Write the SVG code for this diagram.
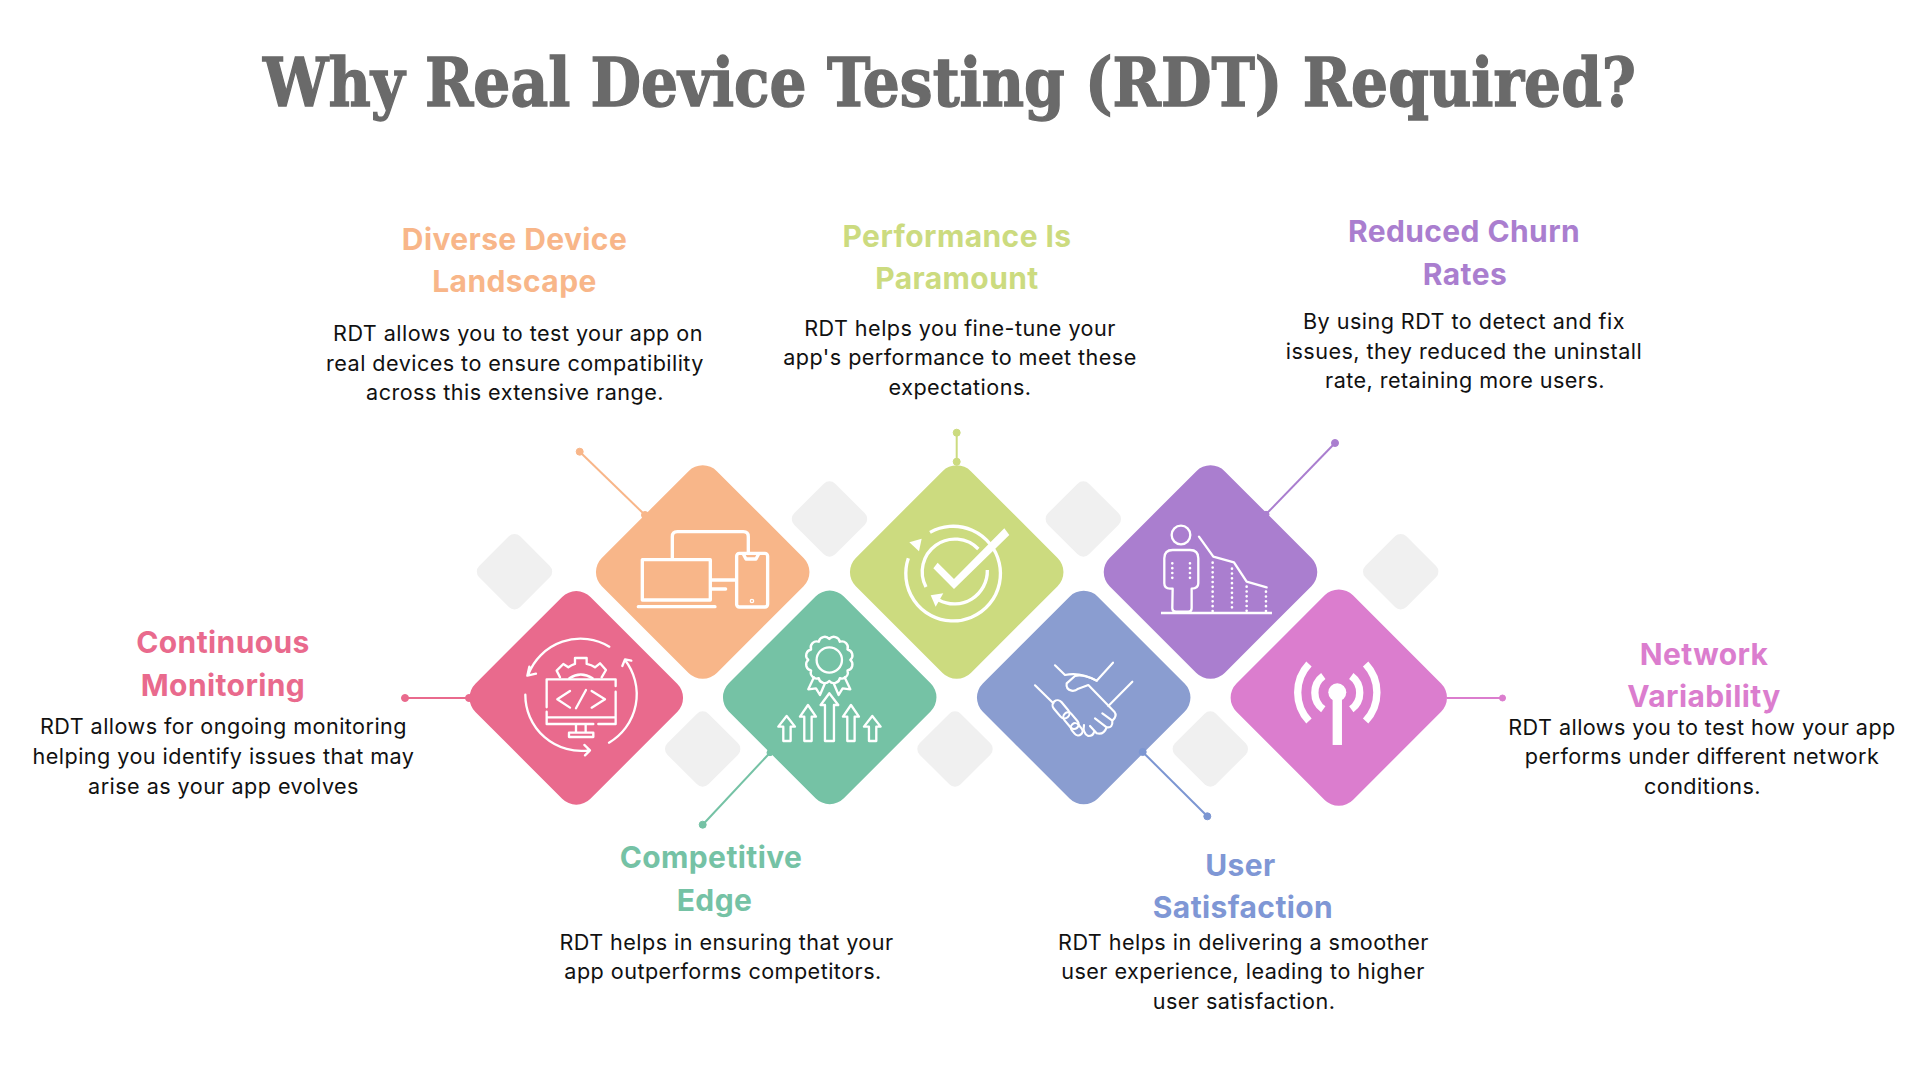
<svg xmlns="http://www.w3.org/2000/svg" width="1920" height="1080" viewBox="0 0 1920 1080">
<style>
text{text-anchor:middle}
.t{font:700 68px "DejaVu Serif Condensed","DejaVu Serif",serif;fill:#6a6a6a;stroke:#6a6a6a;stroke-width:1.3px;text-anchor:start}
.h{font:700 30px Inter,"Liberation Sans",sans-serif;letter-spacing:.4px}
.b{font:400 21.6px Inter,"Liberation Sans",sans-serif;fill:#111;letter-spacing:.45px}
.gd{fill:#f0f0f0}
.ic{fill:none;stroke:#fff;stroke-width:10;stroke-linecap:round;stroke-linejoin:round}
.th{stroke-width:7}
.cn{fill:none;stroke-width:2}
</style>
<rect width="1920" height="1080" fill="#fff"/>
<text class="t" x="263" y="106" textLength="1373" lengthAdjust="spacingAndGlyphs">Why Real Device Testing (RDT) Required?</text>
<g id="decor">
<rect class="gd" x="485.5" y="542.7" width="58" height="58" rx="8" transform="rotate(45 514.5 571.7)"/>
<rect class="gd" x="800.5" y="490" width="58" height="58" rx="8" transform="rotate(45 829.5 519)"/>
<rect class="gd" x="1054.3" y="490" width="58" height="58" rx="8" transform="rotate(45 1083.3 519)"/>
<rect class="gd" x="1371.7" y="542.7" width="58" height="58" rx="8" transform="rotate(45 1400.7 571.7)"/>
<rect class="gd" x="673.7" y="720" width="58" height="58" rx="8" transform="rotate(45 702.7 749)"/>
<rect class="gd" x="926" y="720" width="58" height="58" rx="8" transform="rotate(45 955 749)"/>
<rect class="gd" x="1181.3" y="720" width="58" height="58" rx="8" transform="rotate(45 1210.3 749)"/>
</g>
<g id="node-monitoring">
<rect x="495" y="616.5" width="162.7" height="162.7" rx="20" fill="#E96A8D" transform="rotate(45 576.3 697.8)"/>
<g transform="translate(450 430) scale(.3333)" class="ic th">
<path d="M478 650A168 168 0 0 0 235 733M232 737L258 731M232 737L238 710"/>
<path d="M226 794A168 168 0 0 0 418 961M403 945L420 961L405 976"/>
<path d="M477 938A168 168 0 0 0 525 690M517 708L525 688L544 692"/>
<path d="M290 832V748H497V768M497 785V882H445M290 845V882H430M290 862H497M378 885V908M407 885V908M357 908H430V921H357Z"/>
<path d="M360 783L322 808L360 833M425 783L465 808L425 833M408 780L378 835"/>
<path d="M330 742L320 722L340 702L355 712Q365 705 375 702V684H410V702Q425 705 435 712L450 700L468 720L455 742M358 745Q392 722 428 745"/>
</g>
</g>
<g id="node-devices">
<rect x="621.4" y="490.7" width="162.7" height="162.7" rx="20" fill="#F8B689" transform="rotate(45 702.7 572)"/>
<g transform="translate(450 430) scale(.3333)" class="ic">
<path d="M667 385V320Q667 305 682 305H880Q895 305 895 320V367"/>
<path d="M577 389H781V510H577ZM565 530H795M783 450H857M783 477H827"/>
<rect x="860" y="370" width="93" height="161" rx="8"/>
<path d="M880 372L888 387H918L926 372"/>
<circle cx="906" cy="513" r="2"/>
</g>
</g>
<g id="node-edge">
<rect x="748.4" y="616" width="162.7" height="162.7" rx="20" fill="#75C2A5" transform="rotate(45 829.7 697.3)"/>
<g transform="translate(450 430) scale(.3333)" class="ic th">
<path d="M1201 690A18 18 0 0 1 1192.6 721.5A18 18 0 0 1 1169.5 744.6A18 18 0 0 1 1138 753A18 18 0 0 1 1106.5 744.6A18 18 0 0 1 1083.4 721.5A18 18 0 0 1 1075 690A18 18 0 0 1 1083.4 658.5A18 18 0 0 1 1106.5 635.4A18 18 0 0 1 1138 627A18 18 0 0 1 1169.5 635.4A18 18 0 0 1 1192.6 658.5A18 18 0 0 1 1201 690Z"/>
<circle cx="1138" cy="690" r="38"/>
<path d="M1092 742L1075 778L1098 775L1110 795L1125 760M1184 742L1201 778L1178 775L1166 795L1151 760"/>
<path d="M1125 933V825H1112L1138 790L1165 825H1152V933Z"/>
<path d="M1063 933V860H1050L1074 825L1098 860H1085V933Z"/>
<path d="M1192 933V860H1179L1203 825L1227 860H1214V933Z"/>
<path d="M1000 933V890H985L1010 858L1035 890H1022V933Z"/>
<path d="M1257 933V890H1242L1267 858L1292 890H1279V933Z"/>
</g>
</g>
<g id="node-performance">
<rect x="875.4" y="490.7" width="162.7" height="162.7" rx="20" fill="#CCDB7F" transform="rotate(45 956.7 572)"/>
<g transform="translate(880 490) scale(.3333)" fill="none" stroke="#fff" stroke-width="10">
<path d="M150 127A142 142 0 1 1 85 205"/>
<path d="M295 177A98 98 0 0 0 138 291"/>
<path d="M322 240A99 99 0 0 1 176 330"/>
<path d="M88 157L125 146L117 184Z" fill="#fff" stroke="none"/>
<path d="M152 316L190 310L167 350Z" fill="#fff" stroke="none"/>
<path d="M173 218L222 267L373 115L388 135L222 297L160 235Z" fill="#fff" stroke="none"/>
</g>
</g>
<g id="node-satisfaction">
<rect x="1002.4" y="616.2" width="162.7" height="162.7" rx="20" fill="#8A9DD0" transform="rotate(45 1083.7 697.5)"/>
<g transform="translate(1025 650) scale(.3333)" class="ic" style="stroke-width:6.5">
<path d="M90 46L120 75Q165 65 215 92L264 38M30 106L85 160M322 95L250 168"/>
<path d="M215 92Q175 72 150 78L125 100Q122 118 140 122Q150 124 160 116L190 105L268 185Q278 198 262 212L232 190M262 212Q264 235 245 232L210 205M245 232Q236 256 215 250L195 228"/>
<rect x="77" y="163" width="62" height="30" rx="15" transform="rotate(50 108 178)"/>
<rect x="110" y="198" width="56" height="28" rx="14" transform="rotate(50 138 212)"/>
<rect x="135" y="225" width="40" height="26" rx="13" transform="rotate(50 155 238)"/>
<path d="M177 225Q172 250 190 258Q205 258 207 246"/>
</g>
</g>
<g id="node-churn">
<rect x="1129.2" y="490.7" width="162.7" height="162.7" rx="20" fill="#AA7ECF" transform="rotate(45 1210.5 572)"/>
<g transform="translate(950 430) scale(.3333)" class="ic" style="stroke-width:7">
<circle cx="693" cy="315" r="28"/>
<path d="M668 476H660Q643 476 643 460V385Q643 360 668 360H720Q745 360 745 385V460Q745 476 725 476V535Q725 545 715 545H678Q667 545 667 535Z"/>
<path d="M747 320L790 380L852 397L890 455L950 472"/>
<path d="M633 549H966" stroke-linecap="butt"/>
<path d="M667 400V455M720 400V455M788 398V545M846 416V545M890 470V545M948 485V545" stroke-dasharray="0 14.5" stroke-width="8"/>
</g>
</g>
<g id="node-network">
<rect x="1256.4" y="615.3" width="164.7" height="164.7" rx="20" fill="#DB7DCE" transform="rotate(45 1338.8 697.7)"/>
<g transform="translate(950 430) scale(.3333)" fill="none" stroke="#fff" stroke-width="22">
<path d="M1077 702A125 125 0 0 0 1077 873M1120 738A62 62 0 0 0 1120 838M1247 702A125 125 0 0 1 1247 873M1204 738A62 62 0 0 1 1204 838"/>
<circle cx="1162" cy="787" r="27" fill="#fff" stroke="none"/>
<rect x="1148" y="800" width="28" height="145" fill="#fff" stroke="none"/>
</g>
</g>
<g id="connectors">
<g stroke="#F8B689" fill="#F8B689"><path class="cn" d="M579.7 451.7L645 515"/><circle cx="579.7" cy="451.7" r="3.5"/><circle cx="645" cy="515" r="3.5"/></g>
<g stroke="#E96A8D" fill="#E96A8D"><path class="cn" d="M405 698H469"/><circle cx="405" cy="698" r="3.5"/><circle cx="469" cy="698" r="3.5"/></g>
<g stroke="#75C2A5" fill="#75C2A5"><path class="cn" d="M702.7 824.7L770 752.7"/><circle cx="702.7" cy="824.7" r="3.5"/><circle cx="770" cy="752.7" r="3"/></g>
<g stroke="#CCDB7F" fill="#CCDB7F"><path class="cn" d="M956.7 432.7V461.7"/><circle cx="956.7" cy="432.7" r="3.5"/><circle cx="956.7" cy="461.7" r="3.5"/></g>
<g stroke="#AA7ECF" fill="#AA7ECF"><path class="cn" d="M1335 443L1266 514.3"/><circle cx="1335" cy="443" r="3.5"/><circle cx="1266" cy="514.3" r="3"/></g>
<g stroke="#7C96D2" fill="#7C96D2"><path class="cn" d="M1142.7 752L1207.3 816.3"/><circle cx="1207.3" cy="816.3" r="3.5"/><circle cx="1142.7" cy="752" r="3.5"/></g>
<g stroke="#DB7DCE" fill="#DB7DCE"><path class="cn" d="M1446.7 698H1502.5"/><circle cx="1502.5" cy="698" r="3"/></g>
</g>
<g id="labels">
<g fill="#E96A8D"><text class="h" x="223" y="653">Continuous</text><text class="h" x="223" y="696">Monitoring</text></g>
<text class="b" x="223.5" y="734">RDT allows for ongoing monitoring</text><text class="b" x="223.5" y="764">helping you identify issues that may</text><text class="b" x="223.5" y="794">arise as your app evolves</text>
<g fill="#F8B689"><text class="h" x="514.5" y="249.5">Diverse Device</text><text class="h" x="514.5" y="291.5">Landscape</text></g>
<text class="b" x="518" y="341">RDT allows you to test your app on</text><text class="b" x="515" y="371">real devices to ensure compatibility</text><text class="b" x="515" y="400">across this extensive range.</text>
<g fill="#CCDB7F"><text class="h" x="957" y="247">Performance Is</text><text class="h" x="957" y="288.7">Paramount</text></g>
<text class="b" x="960" y="336">RDT helps you fine-tune your</text><text class="b" x="960" y="365">app's performance to meet these</text><text class="b" x="960" y="395">expectations.</text>
<g fill="#AA7ECF"><text class="h" x="1464" y="241.5">Reduced Churn</text><text class="h" x="1465" y="284.5">Rates</text></g>
<text class="b" x="1464" y="329">By using RDT to detect and fix</text><text class="b" x="1464" y="359">issues, they reduced the uninstall</text><text class="b" x="1465" y="388">rate, retaining more users.</text>
<g fill="#75C2A5"><text class="h" x="711" y="868">Competitive</text><text class="h" x="714.5" y="911">Edge</text></g>
<text class="b" x="726.5" y="950">RDT helps in ensuring that your</text><text class="b" x="723" y="979">app outperforms competitors.</text>
<g fill="#7F97D5"><text class="h" x="1240.5" y="876">User</text><text class="h" x="1243" y="917.5">Satisfaction</text></g>
<text class="b" x="1243.5" y="950">RDT helps in delivering a smoother</text><text class="b" x="1243" y="979">user experience, leading to higher</text><text class="b" x="1244" y="1009">user satisfaction.</text>
<g fill="#DB7DCE"><text class="h" x="1704" y="665">Network</text><text class="h" x="1704" y="707">Variability</text></g>
<text class="b" x="1702" y="735">RDT allows you to test how your app</text><text class="b" x="1702" y="764">performs under different network</text><text class="b" x="1702.5" y="794">conditions.</text>
</g>
</svg>
